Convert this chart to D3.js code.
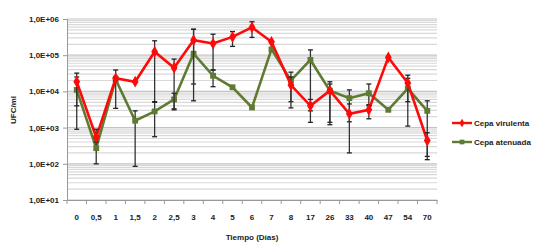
<!DOCTYPE html>
<meta charset="utf-8">
<style>
    body { margin: 0; background: #fff; }
    text { font-family: "Liberation Sans", Arial, sans-serif; font-weight: bold; fill: #222; }
</style>
<script src="https://cdn.jsdelivr.net/npm/d3@7"></script>
<body>
<svg></svg>
</body>
<script>

    var dias = ["0", "0,5", "1", "1,5", "2", "2,5", "3", "4", "5", "6", "7", "8", "17", "26", "33", "40", "47", "54", "70"];

    // Cepa virulenta
    var virulenta   = [1.85e4, 540, 2.3e4, 1.85e4, 1.25e5, 4.5e4, 2.6e5, 2.1e5, 3.2e5, 5.9e5, 2.35e5, 1.5e4, 4.0e3, 1.05e4, 2.4e3, 3.1e3, 8.7e4, 1.7e4, 440];
    var virulentaLo = [4.0e3, 400, 2.0e4, null, 5.2e3, 3.1e3, 5.5e3, 3.9e4, 1.75e5, 3.1e5, null, 3.5e3, 1.4e3, 1.4e3, 200, 1.75e3, null, 5.2e3, 130];
    var virulentaHi = [3.2e4, 900, 2.6e4, null, 2.5e5, 7.8e4, 5.2e5, 3.8e5, 4.5e5, 8.4e5, null, 2.5e4, 6.0e3, 1.85e4, 4.5e3, 4.0e3, null, 2.8e4, 720];

    // Cepa atenuada
    var atenuada   = [1.1e4, 270, 2.15e4, 1.55e3, 2.8e3, 6.0e3, 1.1e5, 2.7e4, 1.3e4, 3.6e3, 1.45e5, 2.0e4, 7.4e4, 1.05e4, 6.5e3, 8.9e3, 3.1e3, 1.2e4, 2.9e3];
    var atenuadaLo = [900, 100, 3.4e3, 85, 560, 3.3e3, 1.6e4, 1.35e4, null, null, null, 5.2e3, 2.9e3, 1.2e3, 1.45e3, 4.3e3, null, 1.1e3, 160];
    var atenuadaHi = [2.5e4, 600, 3.9e4, 2.9e3, 5.0e3, 8.9e3, 5.2e5, 3.9e4, null, null, null, 3.4e4, 1.4e5, 1.6e4, 1.1e4, 1.6e4, null, 2.3e4, 5.5e3];

    var yTicks = [1e1, 1e2, 1e3, 1e4, 1e5, 1e6];

    var svg = d3.select('svg').attr('width', 538).attr('height', 252);

    var x = d3.scaleBand().domain(dias).range([67, 437]);
    var y = d3.scaleLog().domain([10, 1e6]).range([200, 19]);
    var cx = function (d) { return x(d) + x.bandwidth() / 2; };

    // rejilla (mayor + menor)
    var grid = [];
    for (var e = 1; e < 6; e++) {
        for (var m = 1; m < 10; m++) grid.push(m * Math.pow(10, e));
    }
    grid.push(1e6);
    svg.append('g').selectAll('line').data(grid).enter().append('line')
        .attr('x1', 67).attr('x2', 437)
        .attr('y1', function (d) { return y(d); })
        .attr('y2', function (d) { return y(d); })
        .style('stroke', function (d) { return yTicks.indexOf(d) >= 0 ? '#c4c4c4' : '#d8d8d8'; })
        .style('stroke-width', 1.2);

    // ejes
    var fmt = function (d) { return '1,0E+' + d3.format('02d')(Math.round(Math.log10(d))); };
    var gy = svg.append('g').attr('transform', 'translate(67,0)')
        .call(d3.axisLeft(y).tickValues(yTicks).tickFormat(fmt).tickSize(4).tickPadding(4));
    gy.select('.domain').style('stroke', '#999');
    gy.selectAll('.tick line').style('stroke', '#999');
    gy.selectAll('text').style('font-size', '8px').style('font-family', null).attr('fill', null);

    var gx = svg.append('g').attr('transform', 'translate(0,200)')
        .call(d3.axisBottom(x).tickSize(0).tickPadding(14));
    gx.select('.domain').style('stroke', '#999');
    gx.selectAll('text').style('font-size', '8px').style('font-family', null).attr('fill', null);
    gx.selectAll('.sep').data(d3.range(dias.length + 1)).enter().append('line')
        .attr('x1', function (i) { return 67 + i * x.step(); })
        .attr('x2', function (i) { return 67 + i * x.step(); })
        .attr('y1', 0).attr('y2', 4)
        .style('stroke', '#999');

    svg.append('text').attr('x', 252).attr('y', 240).attr('text-anchor', 'middle')
        .style('font-size', '8px').text('Tiempo (Días)');
    svg.append('text').attr('transform', 'translate(16,110) rotate(-90)').attr('text-anchor', 'middle')
        .style('font-size', '8px').text('UFC/ml');

    function serie(vals, lo, hi, color, shape) {
        var g = svg.append('g');
        var line = d3.line().x(function (d, i) { return cx(dias[i]); }).y(function (d) { return y(d); });
        g.append('path').attr('d', line(vals))
            .style('fill', 'none').style('stroke', color).style('stroke-width', 2.6);

        var idx = d3.range(vals.length);
        var eb = g.append('g').selectAll('g').data(idx).enter().append('g');
        eb.filter(function (i) { return lo[i] !== null; }).append('line')
            .attr('x1', function (i) { return cx(dias[i]); }).attr('x2', function (i) { return cx(dias[i]); })
            .attr('y1', function (i) { return y(lo[i]); }).attr('y2', function (i) { return y(hi[i]); })
            .style('stroke', '#333').style('stroke-width', 1.3);
        ['lo', 'hi'].forEach(function (k) {
            var arr = k === 'lo' ? lo : hi;
            eb.filter(function (i) { return arr[i] !== null; }).append('line')
                .attr('x1', function (i) { return cx(dias[i]) - 2.5; }).attr('x2', function (i) { return cx(dias[i]) + 2.5; })
                .attr('y1', function (i) { return y(arr[i]); }).attr('y2', function (i) { return y(arr[i]); })
                .style('stroke', '#222').style('stroke-width', 1.3);
        });

        g.append('g').selectAll('path').data(vals).enter().append('path')
            .attr('transform', function (d, i) { return 'translate(' + cx(dias[i]) + ',' + y(d) + ')'; })
            .attr('d', d3.symbol().type(shape).size(shape === d3.symbolSquare ? 34 : 40))
            .style('fill', color);
    }

    serie(atenuada, atenuadaLo, atenuadaHi, '#5f7a32', d3.symbolSquare);
    serie(virulenta, virulentaLo, virulentaHi, '#ff0a0a', d3.symbolDiamond);

    // leyenda
    var leg = [['Cepa virulenta', '#ff0a0a', d3.symbolDiamond], ['Cepa atenuada', '#5f7a32', d3.symbolSquare]];
    var lg = svg.append('g').selectAll('g').data(leg).enter().append('g')
        .attr('transform', function (d, i) { return 'translate(452,' + (123 + i * 19) + ')'; });
    lg.append('line').attr('x1', 0).attr('x2', 20)
        .style('stroke', function (d) { return d[1]; }).style('stroke-width', 2.4);
    lg.append('path').attr('transform', 'translate(10,0)')
        .attr('d', function (d) { return d3.symbol().type(d[2]).size(22)(); })
        .style('fill', function (d) { return d[1]; });
    lg.append('text').attr('x', 22).attr('dy', '0.35em').style('font-size', '8px')
        .text(function (d) { return d[0]; });

</script>
